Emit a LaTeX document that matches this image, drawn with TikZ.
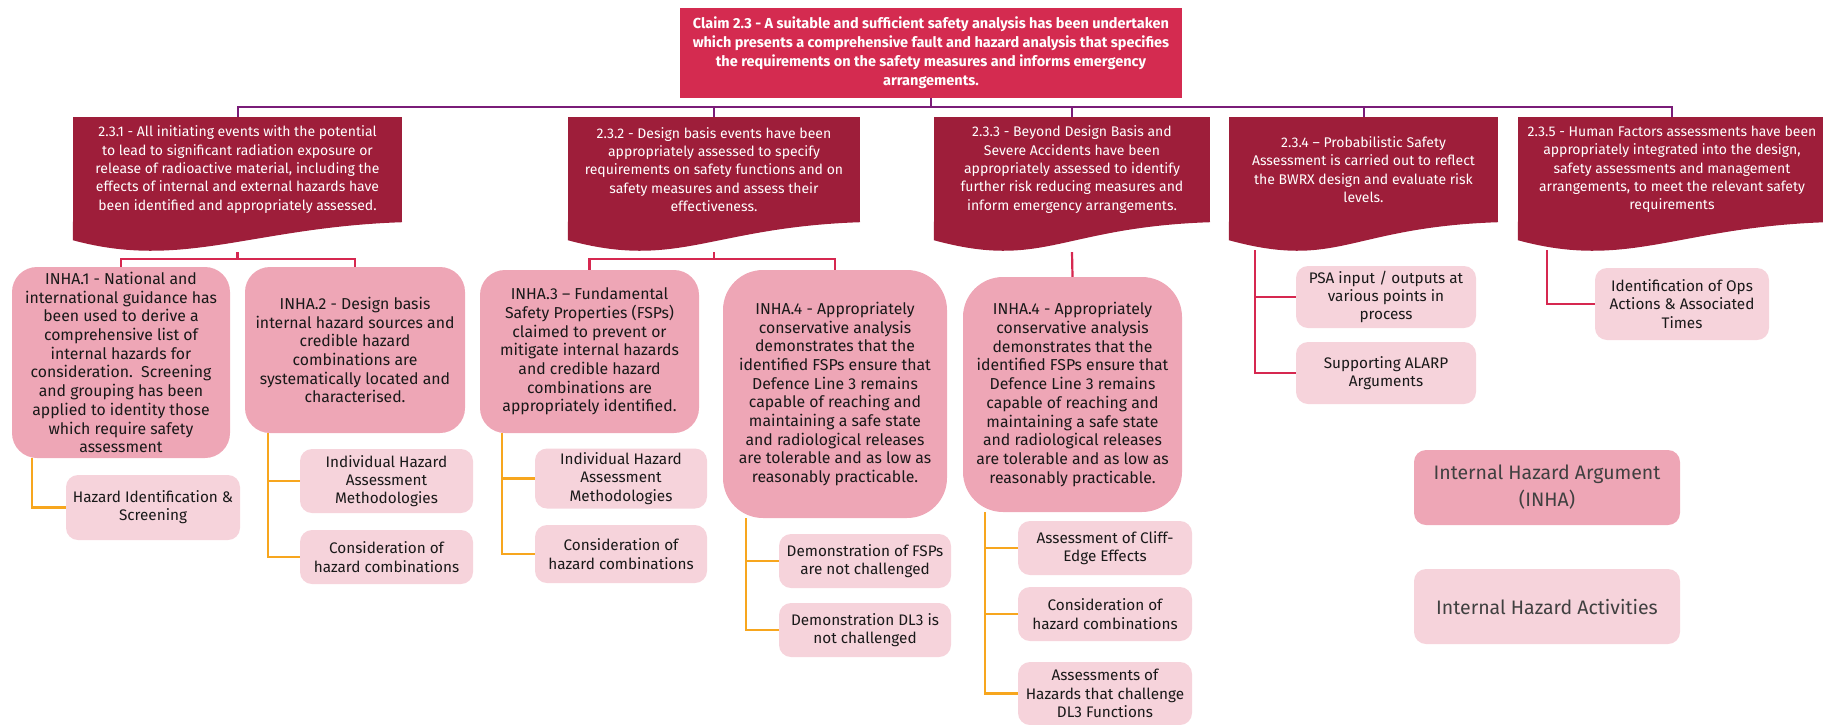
\documentclass[tikz,border=0pt]{standalone}
\usepackage{fontspec}
\setmainfont{Fira Sans}
\usetikzlibrary{calc}

\definecolor{claimred}{RGB}{212,43,80}
\definecolor{wine}{RGB}{158,30,58}
\definecolor{argpink}{RGB}{238,166,182}
\definecolor{actpink}{RGB}{246,211,219}
\definecolor{barpurple}{RGB}{122,28,120}
\definecolor{linkred}{RGB}{214,40,80}
\definecolor{linkorange}{RGB}{247,166,30}

\tikzset{
  claim/.style={fill=claimred, text=white, align=center, inner sep=0pt,
    font=\fontsize{14.5}{19}\selectfont\bfseries},
  subclaim/.style={fill=wine, text=white, align=center, inner sep=0pt,
    minimum height=105pt, font=\fontsize{14}{18.3}\selectfont},
  argument/.style={fill=argpink, rounded corners=25pt, align=center, inner sep=0pt,
    text=black!90, font=\fontsize{15.8}{18.7}\selectfont},
  activity/.style={fill=actpink, rounded corners=12pt, align=center, inner sep=0pt,
    text=black!90, font=\fontsize{15.3}{18.3}\selectfont},
  legend/.style={rounded corners=12pt, align=center, inner sep=0pt,
    minimum width=266pt, minimum height=75pt, text=black!75,
    font=\fontsize{19.5}{27}\selectfont},
  topline/.style={barpurple, line width=2pt},
  redline/.style={linkred, line width=2.2pt},
  orangeline/.style={linkorange, line width=2.2pt},
}

\begin{document}
\begin{tikzpicture}[x=1pt, y=-1pt]
  \useasboundingbox (0,0) rectangle (1823,724);

  % claim
  \node[claim, minimum width=502pt, minimum height=90pt] (claim) at (931,53)
    {Claim 2.3 - A suitable and sufficient safety analysis has been undertaken\\
     which presents a comprehensive fault and hazard analysis that specifies\\
     the requirements on the safety measures and informs emergency\\
     arrangements.};

  % sub-claims
  \node[subclaim, minimum width=329pt] (c231) at (237.5,169.5)
    {2.3.1 - All initiating events with the potential\\
     to lead to significant radiation exposure or\\
     release of radioactive material, including the\\
     effects of internal and external hazards have\\
     been identified and appropriately assessed.};
  \node[subclaim, minimum width=292pt] (c232) at (714,169.5)
    {2.3.2 - Design basis events have been\\
     appropriately assessed to specify\\
     requirements on safety functions and on\\
     safety measures and assess their\\
     effectiveness.};
  \node[subclaim, minimum width=276pt] (c233) at (1072,169.5)
    {2.3.3 - Beyond Design Basis and\\
     Severe Accidents have been\\
     appropriately assessed to identify\\
     further risk reducing measures and\\
     inform emergency arrangements.};
  \node[subclaim, minimum width=269pt] (c234) at (1363.5,169.5)
    {2.3.4 -- Probabilistic Safety\\
     Assessment is carried out to reflect\\
     the BWRX design and evaluate risk\\
     levels.};
  \node[subclaim, minimum width=308pt] (c235) at (1672,169.5)
    {2.3.5 - Human Factors assessments have been\\
     appropriately integrated into the design,\\
     safety assessments and management\\
     arrangements, to meet the relevant safety\\
     requirements};
  \foreach \n in {c231,c232,c233,c234,c235}
    \fill[wine] ([yshift=0.5pt]\n.south west) -- ++(0,18.5)
      .. controls +(110,30) and +(-150,5) .. (\n.south east)
      -- ([yshift=0.5pt]\n.south east) -- cycle;

  \draw[topline] (claim.south) -- ++(0,9) coordinate (hub);
  \draw[topline] (c231.north) |- (hub) -| (c235.north);
  \foreach \n in {c232,c233,c234}
    \draw[topline] (\n.north) -- (\n.north |- hub);

  % arguments
  \node[argument, minimum width=218pt, minimum height=191pt] (inha1) at (121,362.5)
    {INHA.1 - National and\\ international guidance has\\ been used to derive a\\
     comprehensive list of\\ internal hazards for\\ consideration.\ \ Screening\\
     and grouping has been\\ applied to identity those\\ which require safety\\
     assessment};
  \node[argument, minimum width=220pt, minimum height=166pt] (inha2) at (355,350)
    {INHA.2 - Design basis\\ internal hazard sources and\\ credible hazard\\
     combinations are\\ systematically located and\\ characterised.};
  \node[argument, minimum width=219pt, minimum height=163pt] (inha3) at (589.5,351.5)
    {INHA.3 -- Fundamental\\ Safety Properties (FSPs)\\ claimed to prevent or\\
     mitigate internal hazards\\ and credible hazard\\ combinations are\\
     appropriately identified.};
  \node[argument, rounded corners=40pt, minimum width=224pt, minimum height=248pt] (inha4a) at (835,394)
    {INHA.4 - Appropriately\\ conservative analysis\\ demonstrates that the\\
     identified FSPs ensure that\\ Defence Line 3 remains\\ capable of reaching and\\
     maintaining a safe state\\ and radiological releases\\ are tolerable and as low as\\
     reasonably practicable.};
  \node[argument, rounded corners=40pt, minimum width=219pt, minimum height=235pt] (inha4b) at (1072.5,394.5)
    {INHA.4 - Appropriately\\ conservative analysis\\ demonstrates that the\\
     identified FSPs ensure that\\ Defence Line 3 remains\\ capable of reaching and\\
     maintaining a safe state\\ and radiological releases\\ are tolerable and as low as\\
     reasonably practicable.};

  \draw[redline] ([yshift=-30pt]c231.south) -- ++(0,7) coordinate (j231);
  \draw[redline] (inha1.north) |- (j231) -| (inha2.north);
  \draw[redline] ([yshift=-30pt]c232.south) -- ++(0,7) coordinate (j232);
  \draw[redline] (inha3.north) |- (j232) -| (inha4a.north);
  \draw[redline] ([yshift=-30pt]c233.south) -- (inha4b.north);

  % activities
  \node[activity, minimum width=174pt, minimum height=65pt] (hazid) at (153,507.5)
    {Hazard Identification \&\\ Screening};
  \node[activity, minimum width=173pt, minimum height=64pt] (ind2) at (386.5,481)
    {Individual Hazard\\ Assessment\\ Methodologies};
  \node[activity, minimum width=173pt, minimum height=54pt] (comb2) at (386.5,557)
    {Consideration of\\ hazard combinations};
  \node[activity, minimum width=172pt, minimum height=60pt] (ind3) at (621,478.5)
    {Individual Hazard\\ Assessment\\ Methodologies};
  \node[activity, minimum width=172pt, minimum height=58pt] (comb3) at (621,554)
    {Consideration of\\ hazard combinations};
  \node[activity, minimum width=172pt, minimum height=54pt] (dfsp) at (865,561)
    {Demonstration of FSPs\\ are not challenged};
  \node[activity, minimum width=172pt, minimum height=54pt] (ddl3) at (865,630)
    {Demonstration DL3 is\\ not challenged};
  \node[activity, minimum width=174pt, minimum height=54pt] (cliff) at (1105,548)
    {Assessment of Cliff-\\ Edge Effects};
  \node[activity, minimum width=174pt, minimum height=54pt] (comb4) at (1105,614)
    {Consideration of\\ hazard combinations};
  \node[activity, minimum width=174pt, minimum height=63pt] (dl3f) at (1105,693.5)
    {Assessments of\\ Hazards that challenge\\ DL3 Functions};
  \node[activity, minimum width=180pt, minimum height=62pt] (psa) at (1386,297)
    {PSA input / outputs at\\ various points in\\ process};
  \node[activity, minimum width=180pt, minimum height=62pt] (alarp) at (1386,373)
    {Supporting ALARP\\ Arguments};
  \node[activity, minimum width=174pt, minimum height=72pt] (ops) at (1682,304)
    {Identification of Ops\\ Actions \& Associated\\ Times};

  \draw[orangeline] ([xshift=20pt]inha1.south west) |- (hazid.west);
  \draw[orangeline] ([xshift=23pt]inha2.south west) |- (ind2.west);
  \draw[orangeline] ([xshift=23pt]inha2.south west) |- (comb2.west);
  \draw[orangeline] ([xshift=22pt]inha3.south west) |- (ind3.west);
  \draw[orangeline] ([xshift=22pt]inha3.south west) |- (comb3.west);
  \draw[orangeline] ([xshift=23pt]inha4a.south west) |- (dfsp.west);
  \draw[orangeline] ([xshift=23pt]inha4a.south west) |- (ddl3.west);
  \draw[orangeline] ([xshift=22pt]inha4b.south west) |- (cliff.west);
  \draw[orangeline] ([xshift=22pt]inha4b.south west) |- (comb4.west);
  \draw[orangeline] ([xshift=22pt]inha4b.south west) |- (dl3f.west);

  \coordinate (t234) at (1255,250);
  \draw[redline] (t234) |- (psa.west);
  \draw[redline] (t234) |- (alarp.west);
  \coordinate (t235) at (1547,250);
  \draw[redline] (t235) |- (ops.west);

  % legend
  \node[legend, fill=argpink] (keyarg) at (1547,487.5)
    {Internal Hazard Argument\\ (INHA)};
  \node[legend, fill=actpink] (keyact) at (1547,606.5)
    {Internal Hazard Activities};
\end{tikzpicture}
\end{document}
